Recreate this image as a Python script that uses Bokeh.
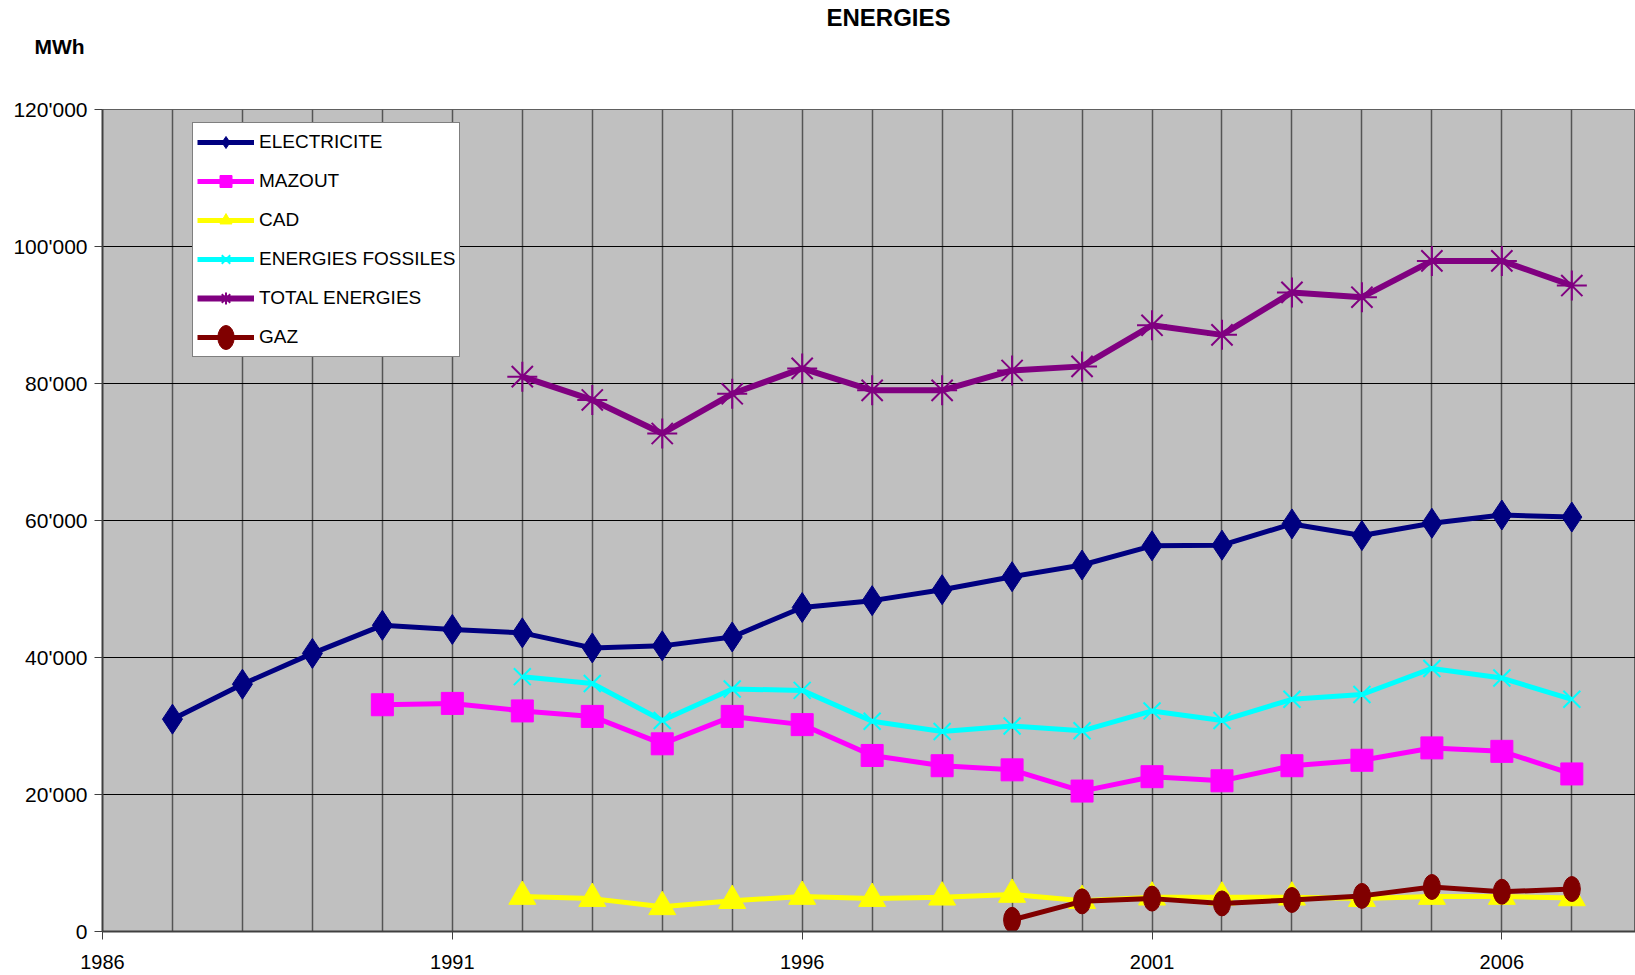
from bokeh.plotting import figure
from bokeh.models import (Range1d, FixedTicker, Legend, LegendItem, Title)
from bokeh.layouts import column
from bokeh.embed import file_html
from bokeh.resources import INLINE

# ---- data ----
years_elec = [1987, 1988, 1989, 1990, 1991, 1992, 1993, 1994, 1995, 1996, 1997,
              1998, 1999, 2000, 2001, 2002, 2003, 2004, 2005, 2006, 2007]
electricite = [31000, 36100, 40600, 44700, 44100, 43600, 41400, 41700, 43000, 47300, 48300,
               49900, 51800, 53500, 56300, 56400, 59500, 57800, 59600, 60800, 60500]

years_mazout = [1990, 1991, 1992, 1993, 1994, 1995, 1996, 1997, 1998, 1999,
                2000, 2001, 2002, 2003, 2004, 2005, 2006, 2007]
mazout = [33100, 33300, 32200, 31400, 27400, 31400, 30200, 25700, 24200, 23600,
          20500, 22600, 22000, 24200, 25000, 26800, 26300, 23000]

years_from_1992 = [1992, 1993, 1994, 1995, 1996, 1997, 1998, 1999, 2000,
                   2001, 2002, 2003, 2004, 2005, 2006, 2007]
cad = [5100, 4800, 3600, 4500, 5100, 4800, 5000, 5400, 4500,
       5000, 5000, 5000, 4800, 5100, 5100, 4900]
fossiles = [37200, 36200, 30800, 35400, 35200, 30700, 29200, 30000, 29300,
            32200, 30800, 33900, 34600, 38400, 37000, 33900]
total = [81000, 77600, 72700, 78500, 82200, 79000, 79000, 81900, 82500,
         88500, 87100, 93300, 92600, 97900, 97900, 94300]

years_gaz = [1999, 2000, 2001, 2002, 2003, 2004, 2005, 2006, 2007]
gaz = [1700, 4400, 4800, 4100, 4600, 5200, 6500, 5800, 6200]

x_ticks = [1986, 1991, 1996, 2001, 2006]
grid_years = [1986, 1987, 1988, 1989, 1990, 1991, 1992, 1993, 1994, 1995, 1996,
              1997, 1998, 1999, 2000, 2001, 2002, 2003, 2004, 2005, 2006, 2007, 2008]
y_ticks = [0, 20000, 40000, 60000, 80000, 100000, 120000]
y_labels = ["0", "20'000", "40'000", "60'000", "80'000", "100'000", "120'000"]

FONT = "Liberation Sans"
W = 1635

# ---- header band: chart title and unit (as titles stacked above an empty frame) ----
head = figure(width=W, height=96, output_backend="svg", toolbar_location=None,
              x_range=Range1d(0, 1), y_range=Range1d(0, 1),
              x_axis_location=None, y_axis_location=None, min_border=0)
head.title.visible = False
head.outline_line_color = None
head.background_fill_color = "white"
head.border_fill_color = "white"
head.xgrid.visible = False
head.ygrid.visible = False
unit = Title(text="MWh", align="left", offset=-68, standoff=0,
             text_font=FONT, text_font_style="bold", text_font_size="21px",
             text_color="black")
head.add_layout(unit, "above")
main = Title(text="ENERGIES", align="left", offset=724, standoff=3,
             text_font=FONT, text_font_style="bold", text_font_size="24px",
             text_color="black")
head.add_layout(main, "above")

# ---- main chart ----
p = figure(width=W, height=874, output_backend="svg", toolbar_location=None,
           x_range=Range1d(1986, 2007.91), y_range=Range1d(0, 120000),
           frame_width=1533, frame_height=822,
           min_border_left=102, min_border_right=0, min_border_top=13, min_border_bottom=39)
p.background_fill_color = "#C0C0C0"
p.border_fill_color = "white"
p.outline_line_color = "#606060"
p.outline_line_width = 1

# axes
p.xaxis.ticker = FixedTicker(ticks=x_ticks)
p.xaxis.minor_tick_line_color = None
p.xaxis.major_tick_out = 8
p.xaxis.major_tick_in = 0
p.xaxis.major_label_standoff = 15
p.xaxis.axis_line_color = "#404040"
p.xaxis.axis_line_width = 2
p.xaxis.major_tick_line_color = "#404040"
p.xaxis.major_label_text_font = FONT
p.xaxis.major_label_text_font_size = "20px"
p.xaxis.major_label_text_color = "black"

p.yaxis.ticker = FixedTicker(ticks=y_ticks)
p.yaxis.major_label_overrides = {t: l for t, l in zip(y_ticks, y_labels)}
p.yaxis.minor_tick_line_color = None
p.yaxis.major_tick_out = 8
p.yaxis.major_tick_in = 0
p.yaxis.major_label_standoff = 7
p.yaxis.axis_line_color = "#404040"
p.yaxis.axis_line_width = 2
p.yaxis.major_tick_line_color = "#404040"
p.yaxis.major_label_text_font = FONT
p.yaxis.major_label_text_font_size = "21px"
p.yaxis.major_label_text_color = "black"

# grids
p.xgrid.ticker = FixedTicker(ticks=grid_years)
p.xgrid.grid_line_color = "#555555"
p.xgrid.grid_line_width = 1.5
p.ygrid.ticker = FixedTicker(ticks=y_ticks)
p.ygrid.grid_line_color = "black"
p.ygrid.grid_line_width = 1

LW = 5

items = []

r1 = p.line(years_elec, electricite, line_color="#000080", line_width=LW)
m1 = p.scatter(years_elec, electricite, marker="diamond", size=30, fill_color="#000080",
               line_color="#000080")
items.append(LegendItem(label="ELECTRICITE", renderers=[r1, m1]))

r2 = p.line(years_mazout, mazout, line_color="#FF00FF", line_width=LW)
m2 = p.scatter(years_mazout, mazout, marker="square", size=22, fill_color="#FF00FF",
               line_color="#FF00FF")
items.append(LegendItem(label="MAZOUT", renderers=[r2, m2]))

r3 = p.line(years_from_1992, cad, line_color="#FFFF00", line_width=LW)
m3 = p.scatter(years_from_1992, cad, marker="triangle", size=27, fill_color="#FFFF00",
               line_color="#FFFF00")
items.append(LegendItem(label="CAD", renderers=[r3, m3]))

r4 = p.line(years_from_1992, fossiles, line_color="#00FFFF", line_width=LW)
m4 = p.scatter(years_from_1992, fossiles, marker="x", size=24, line_color="#00FFFF",
               line_width=2)
items.append(LegendItem(label="ENERGIES FOSSILES", renderers=[r4, m4]))

r5 = p.line(years_from_1992, total, line_color="#800080", line_width=LW + 1)
m5 = p.scatter(years_from_1992, total, marker="asterisk", size=30, line_color="#800080",
               line_width=2)
items.append(LegendItem(label="TOTAL ENERGIES", renderers=[r5, m5]))

r6 = p.line(years_gaz, gaz, line_color="#800000", line_width=LW)
m6 = p.ellipse(years_gaz, gaz, width=17, height=25, width_units="screen", height_units="screen",
               fill_color="#800000", line_color="#800000")
items.append(LegendItem(label="GAZ", renderers=[r6, m6]))

legend = Legend(items=items, location=(90, 574), orientation="vertical")
legend.background_fill_color = "white"
legend.background_fill_alpha = 1
legend.border_line_color = "black"
legend.border_line_width = 1
legend.label_text_font = FONT
legend.label_text_font_size = "19px"
legend.label_text_color = "black"
legend.glyph_width = 57
legend.glyph_height = 30
legend.label_height = 30
legend.spacing = 9
legend.padding = 4
legend.margin = 0
legend.label_standoff = 5
p.add_layout(legend, "center")

layout = column(head, p, spacing=0)
open("out.html", "w").write(file_html(layout, INLINE))
